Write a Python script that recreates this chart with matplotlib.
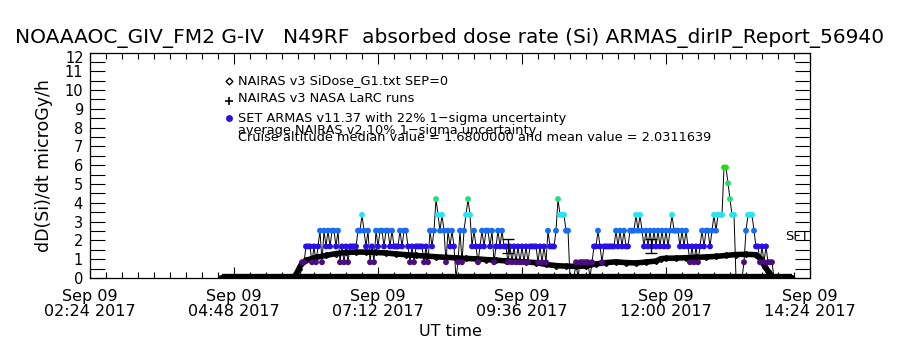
import matplotlib
matplotlib.use('Agg')
import matplotlib.pyplot as plt
import matplotlib.dates as mdates
from matplotlib.ticker import MultipleLocator, AutoMinorLocator, FixedLocator, FuncFormatter
import pandas as pd

day = '2017-09-09 '

# NAIRAS v3 model dose rate along the track (microGy/h)
nairas_times = ['04:36', '05:00', '05:30', '05:47', '05:50', '05:53', '05:56', '06:00',
                '06:05', '06:10', '06:20', '06:30', '06:40', '06:50', '07:00', '07:10',
                '07:20', '07:30', '07:40', '07:50', '08:00', '08:10', '08:20', '08:30',
                '08:40', '08:50', '09:00', '09:10', '09:20', '09:30', '09:40', '09:50',
                '10:00', '10:10', '10:20', '10:30', '10:40', '10:50', '11:00', '11:10',
                '11:20', '11:30', '11:40', '11:50', '11:55', '12:00', '12:10', '12:20',
                '12:30', '12:40', '12:50', '13:00', '13:10', '13:20', '13:30', '13:33',
                '13:36', '13:39', '13:42', '13:45', '13:48', '13:52', '14:00', '14:06']
nairas_dose = [0.0, 0.0, 0.0, 0.0, 0.2, 0.5, 0.8, 0.95,
               1.02, 1.1, 1.2, 1.3, 1.36, 1.38, 1.38, 1.36,
               1.33, 1.28, 1.24, 1.2, 1.17, 1.13, 1.1, 1.07,
               1.04, 1.02, 0.98, 0.95, 0.91, 0.88, 0.85, 0.82,
               0.72, 0.66, 0.63, 0.62, 0.64, 0.75, 0.82, 0.86,
               0.82, 0.8, 0.85, 0.9, 1.03, 1.05, 1.06, 1.08,
               1.1, 1.12, 1.15, 1.2, 1.25, 1.26, 1.24, 1.1,
               0.85, 0.6, 0.35, 0.15, 0.03, 0.0, 0.0, 0.0]

# NAIRAS v3 NASA LaRC runs
larc_times = ['04:36', '05:06', '05:36', '06:06', '06:36', '07:06', '07:36', '08:06',
              '08:36', '09:06', '09:36', '10:06', '10:36', '11:06', '11:36', '12:06',
              '12:36', '13:06', '13:36', '14:06']
larc_dose = [0.0, 0.0, 0.0, 0.0, 0.0, 0.0, 0.0, 0.0, 0.0, 0.0,
             0.0, 0.0, 0.0, 0.0, 0.0, 0.0, 0.0, 0.0, 0.0, 0.0]

# SET ARMAS records, one every 2 minutes from 05:54 UT
armas_start = '05:54'
armas_dose = [
    0.00,
    0.84, 0.84, 1.68, 1.68, 1.68, 0.84, 1.68, 0.84, 1.68, 2.52,
    0.84, 2.52, 1.68, 2.52, 1.68, 2.52, 2.52, 1.68, 2.52, 0.84,
    1.68, 0.84, 1.68, 0.84, 1.68, 1.68, 1.68, 1.68, 2.52, 2.52,
    3.36, 2.52, 1.68, 2.52, 0.84, 1.68, 0.84, 2.52, 1.68, 2.52,
    2.52, 1.68, 2.52, 2.52, 1.68, 2.52, 1.68, 1.68, 1.68, 2.52,
    1.68, 2.52, 2.52, 1.68, 0.84, 1.68, 0.84, 1.68, 1.68, 1.68,
    1.68, 0.84, 1.68, 0.84, 2.52, 1.68, 2.52, 4.20, 3.36, 2.52,
    3.36, 2.52, 0.84, 2.52, 1.68, 2.52, 1.68, 0.00, 0.84, 2.52,
    0.84, 2.52, 3.36, 4.20, 3.36, 1.68, 2.52, 1.68, 0.84, 1.68,
    2.52, 1.68, 2.52, 2.52, 1.68, 2.52, 0.84, 1.68, 2.52, 1.68,
    2.52, 1.68, 1.68, 0.84, 1.68, 0.84, 1.68, 0.84, 1.68, 0.84,
    1.68, 0.84, 1.68, 0.84, 1.68, 1.68, 1.68, 1.68, 0.84, 1.68,
    0.84, 1.68, 0.84, 2.52, 1.68, 1.68, 1.68, 2.52, 4.20, 3.36,
    3.36, 3.36, 2.52, 2.52, 0.00, 0.00, 0.00, 0.84, 0.00, 0.84,
    0.84, 0.84, 0.84, 0.84, 0.00, 0.84, 1.68, 1.68, 2.52, 1.68,
    0.84, 1.68, 1.68, 1.68, 1.68, 1.68, 1.68, 2.52, 1.68, 2.52,
    1.68, 2.52, 1.68, 1.68, 2.52, 2.52, 2.52, 3.36, 2.52, 3.36,
    2.52, 1.68, 2.52, 1.68, 2.52, 1.68, 2.52, 1.68, 2.52, 1.68,
    2.52, 1.68, 2.52, 1.68, 2.52, 3.36, 2.52, 2.52, 2.52, 1.68,
    2.52, 1.68, 2.52, 1.68, 0.84, 1.68, 0.84, 1.68, 0.84, 1.68,
    2.52, 1.68, 2.52, 2.52, 1.68, 2.52, 3.36, 2.52, 3.36, 3.36,
    3.36, 5.88, 5.88, 5.04, 4.20, 3.36, 3.36, 0.00, 0.00, 0.00,
    0.00, 0.84, 2.52, 3.36, 3.36, 3.36, 2.52, 1.68, 1.68, 0.84,
    1.68, 0.84, 1.68, 0.84, 0.84, 0.84, 0.00, 0.00, 0.00, 0.00]

# 22% 1-sigma uncertainty bars
err_times = ['09:22', '11:45']
err_dose = [1.68, 1.68]
err_sigma = [0.37, 0.37]

tick_times = ['02:24', '04:48', '07:12', '09:36', '12:00', '14:24']
y_top = 12

title = 'NOAAAOC_GIV_FM2 G-IV   N49RF  absorbed dose rate (Si) ARMAS_dirIP_Report_56940'
legend_lines = ['NAIRAS v3 SiDose_G1.txt SEP=0',
                'NAIRAS v3 NASA LaRC runs',
                'SET ARMAS v11.37 with 22% 1\u2212sigma uncertainty',
                'average NAIRAS v2 10% 1\u2212sigma uncertainty',
                'Cruise altitude median value = 1.6800000 and mean value = 2.0311639']

# colour per dose step (0.84 microGy/h per step)
level_colors = ['black', '#4b0c7d', '#2a10e6', '#1a6cf0', '#26e4f2',
                '#22e07a', '#22dd66', '#22dd11']


def to_time(hhmm):
    return pd.to_datetime([day + t for t in hhmm])


plt.rcParams['font.family'] = 'DejaVu Sans'
fig = plt.figure(figsize=(9, 3.5), dpi=100)
ax = fig.add_axes([0.1, 0.2057, 0.8, 0.6443])

# ground / LaRC zero line
ax.plot(to_time(larc_times), larc_dose, color='black', lw=6, solid_capstyle='butt', zorder=2)

# NAIRAS curve
ax.plot(to_time(nairas_times), nairas_dose, color='black', lw=4, marker='D', ms=3,
        mfc='none', mec='black', zorder=3)

# ARMAS
armas_t = pd.date_range(day + armas_start, periods=len(armas_dose), freq='2min')
armas_c = [level_colors[int(round(v / 0.84))] for v in armas_dose]
ax.plot(armas_t, armas_dose, color='black', lw=0.7, zorder=4)
ax.scatter(armas_t, armas_dose, c=armas_c, s=18, marker='o', linewidths=0, zorder=5)

ax.errorbar(to_time(err_times), err_dose, yerr=err_sigma, fmt='none', ecolor='black',
            elinewidth=1, capsize=4, capthick=1, zorder=6)

ax.set_xlim(pd.Timestamp(day + '02:24'), pd.Timestamp(day + '14:24'))
ax.set_ylim(0, y_top)

ax.xaxis.set_major_locator(FixedLocator(mdates.date2num(to_time(tick_times))))
ax.xaxis.set_major_formatter(mdates.DateFormatter('%b %d\n%H:%M %Y'))
ax.xaxis.set_minor_locator(AutoMinorLocator(9))
ax.yaxis.set_major_locator(MultipleLocator(1))
ax.yaxis.set_minor_locator(MultipleLocator(0.5))
# top label is drawn separately, a bit lower, as in the original
ax.yaxis.set_major_formatter(FuncFormatter(lambda v, p: '' if v >= y_top else '%d' % v))

ax.tick_params(axis='x', which='major', direction='in', length=8, width=0.8,
               top=True, bottom=True, labelsize=11.5, pad=8)
ax.tick_params(axis='x', which='minor', direction='in', length=4, width=0.8,
               top=True, bottom=True)
ax.tick_params(axis='y', which='both', direction='in', length=11, width=0.8,
               left=True, right=True, labelsize=10.5, pad=5)
for lab in ax.get_xticklabels():
    lab.set_linespacing(0.95)
for s in ax.spines.values():
    s.set_linewidth(0.9)

ax.annotate('%d' % y_top, xy=(0, y_top), xycoords=('axes fraction', 'data'),
            xytext=(-6, -6), textcoords='offset pixels', ha='right', va='center',
            fontsize=10.5)

ax.set_ylabel('dD(Si)/dt microGy/h', fontsize=12.5, labelpad=8)
ax.set_xlabel('UT time', fontsize=11.5, labelpad=4)
fig.text(0.5, 0.89, title, ha='center', va='center', fontsize=14.5)

# legend drawn by hand, IDL style
leg_x = 0.193
leg_y = [0.874, 0.794, 0.7095, 0.652, 0.621]
ax.plot([leg_x], [leg_y[0]], transform=ax.transAxes, marker='D', ms=3.5, mfc='none',
        mec='black', clip_on=False)
ax.plot([leg_x], [leg_y[1] - 0.01], transform=ax.transAxes, marker='+', ms=6, mew=1.2,
        color='black', clip_on=False)
ax.plot([leg_x], [leg_y[2]], transform=ax.transAxes, marker='o', ms=5, mec='none',
        color=level_colors[2], clip_on=False)
for txt, yy in zip(legend_lines, leg_y):
    ax.text(leg_x + 0.012, yy, txt, transform=ax.transAxes, fontsize=9.3,
            ha='left', va='center')

ax.text(0.998, 0.182, 'SFT', transform=ax.transAxes, ha='right', va='center', fontsize=9.5)

fig.savefig('out.png', dpi=100)
